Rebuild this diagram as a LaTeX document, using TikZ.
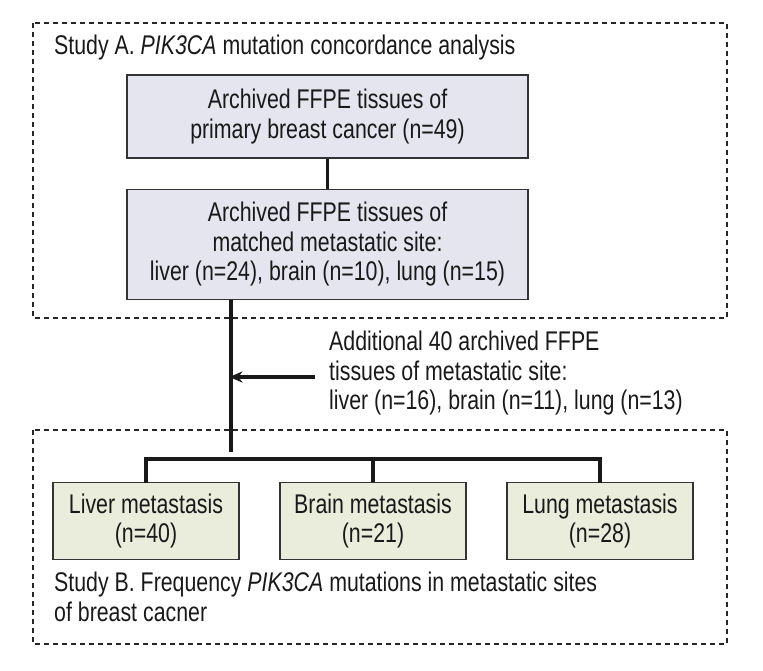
\documentclass[tikz,border=0pt]{standalone}
\usepackage{fontspec}
\setmainfont[FakeStretch=0.79]{Liberation Sans}
\usetikzlibrary{arrows.meta}
\definecolor{boxA}{HTML}{E4E5EE}
\definecolor{boxB}{HTML}{EBEDDC}
\definecolor{edge}{HTML}{333333}
\begin{document}
\begin{tikzpicture}[x=1pt,y=-1pt,
  every node/.style={font=\fontsize{27}{29.5}\selectfont, text=black!90},
  topbox/.style={draw=edge, line width=1.4pt, fill=boxA, align=center, inner sep=0pt},
  botbox/.style={draw=edge, line width=1.4pt, fill=boxB, align=center, inner sep=0pt,
                 minimum width=186pt, minimum height=77pt},
  studybox/.style={draw=black!85, line width=1.1pt, dash pattern=on 5pt off 4pt},
  conn/.style={line width=3.2pt, draw=black!90},
  label/.style={inner sep=0pt, align=left}
]
\useasboundingbox (0,0) rectangle (763,670);
% study frames
\draw[studybox] (33,23) rectangle (727,318);
\draw[studybox] (33,430) rectangle (727,644);
% titles
\node[label, anchor=west] (tA) at (54,48) {Study A. \textit{PIK3CA} mutation concordance analysis};
\node[label, anchor=north west] (tB) at (54,572) {Study B. Frequency \textit{PIK3CA} mutations in metastatic sites\\of breast cacner};
% top boxes
\node[topbox, minimum width=401pt, minimum height=83pt] (b1) at (327.5,116.5)
  {Archived FFPE tissues of\\primary breast cancer (n=49)};
\node[topbox, minimum width=401pt, minimum height=110pt] (b2) at (327.5,244.5)
  {Archived FFPE tissues of\\matched metastatic site:\\liver (n=24), brain (n=10), lung (n=15)};
% additional text
\node[label, anchor=north west] (add) at (329,331)
  {Additional 40 archived FFPE\\tissues of metastatic site:\\liver (n=16), brain (n=11), lung (n=13)};
% bottom boxes
\node[botbox] (liver) at (146,521) {Liver metastasis\\(n=40)};
\node[botbox] (brain) at (373,521) {Brain metastasis\\(n=21)};
\node[botbox] (lung) at (600,521) {Lung metastasis\\(n=28)};
% connectors
\coordinate (j) at (231,452);
\coordinate (barY) at (0,459);
\coordinate (at) at (315,377);
\draw[conn] (b1) -- (b2);
\draw[conn] (b2.south -| j) -- (j);
\draw[conn, -{Stealth[length=13pt,width=11pt,inset=4pt]}] (at) -- ([xshift=-1.6pt]at -| j);
\draw[conn, line cap=rect] (liver.north) -- (liver.north |- barY) -- (lung.north |- barY) -- (lung.north);
\draw[conn] (brain.north) -- (brain.north |- barY);
\end{tikzpicture}
\end{document}
